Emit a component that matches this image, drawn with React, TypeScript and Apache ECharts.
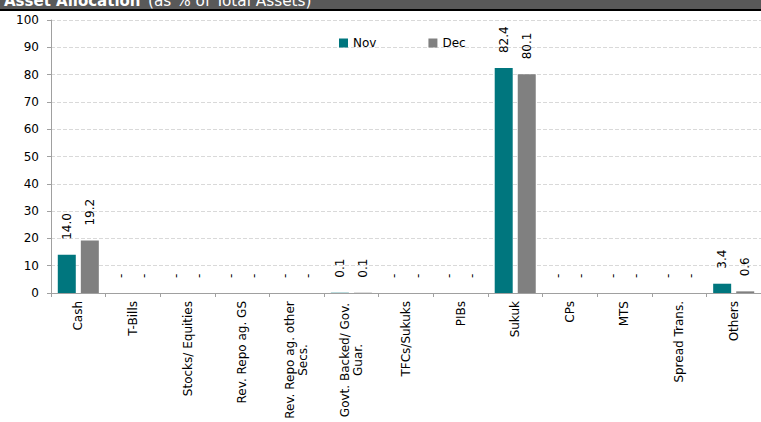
import React, { useEffect, useRef } from "react";
import * as echarts from "echarts";

const categories = [
  "Cash",
  "T-Bills",
  "Stocks/ Equities",
  "Rev. Repo ag. GS",
  "Rev. Repo ag. other\nSecs.",
  "Govt. Backed/ Gov.\nGuar.",
  "TFCs/Sukuks",
  "PIBs",
  "Sukuk",
  "CPs",
  "MTS",
  "Spread Trans.",
  "Others",
];
const novValues = [14.0, 0, 0, 0, 0, 0.1, 0, 0, 82.4, 0, 0, 0, 3.4];
const decValues = [19.2, 0, 0, 0, 0, 0.1, 0, 0, 80.1, 0, 0, 0, 0.6];
const seriesNames = ["Nov", "Dec"];
const titleBold = "Asset Allocation";
const titleRest = "(as % of Total Assets)";

const FONT = "DejaVu Sans";
const TEAL = "#00767E";
const GREY = "#808080";

function measure(text: string, size: number): number {
  const c = document.createElement("canvas");
  const ctx = c.getContext("2d");
  if (!ctx) return text.length * size * 0.6;
  ctx.font = `${size}px "${FONT}"`;
  return Math.ceil(ctx.measureText(text).width);
}

export default function App() {
  const ref = useRef<HTMLDivElement>(null);
  useEffect(() => {
    document.body.style.margin = "0";
    if (!ref.current) return;
    const chart = echarts.init(ref.current, undefined, { renderer: "svg" });

    const maxTwoLineWidth = Math.max(
      ...categories
        .filter((c) => c.indexOf("\n") >= 0)
        .map((c) => Math.max(...c.split("\n").map((l) => measure(l, 12))))
    );

    const labelFmt = (p: any) => (p.value === 0 ? "-" : Number(p.value).toFixed(1));
    const barLabel = {
      show: true,
      position: "top",
      rotate: 90,
      align: "left",
      verticalAlign: "middle",
      distance: 15,
      fontSize: 12,
      fontFamily: FONT,
      color: "#000",
      formatter: labelFmt,
    };

    chart.setOption({
      animation: false,
      textStyle: { fontFamily: FONT },
      graphic: [
        { type: "rect", shape: { x: 0, y: 0, width: 761, height: 9 }, style: { fill: "#595959" } },
        { type: "rect", shape: { x: 0, y: 9, width: 761, height: 2 }, style: { fill: "#000" } },
        {
          type: "text",
          x: 4,
          y: 0.5,
          style: {
            text: titleBold,
            fill: "#fff",
            fontSize: 15,
            fontWeight: "bold",
            fontFamily: FONT,
            verticalAlign: "middle",
          },
        },
        {
          type: "text",
          x: 148,
          y: 0.5,
          style: {
            text: titleRest,
            fill: "#fff",
            fontSize: 15.3,
            fontFamily: FONT,
            verticalAlign: "middle",
          },
        },
      ],
      legend: {
        data: seriesNames,
        left: 334,
        top: 32,
        icon: "rect",
        itemWidth: 9,
        itemHeight: 9,
        itemGap: 52,
        textStyle: { fontSize: 12, fontFamily: FONT, color: "#000" },
      },
      grid: { left: 51, top: 20, right: -3, bottom: 128 },
      xAxis: {
        type: "category",
        data: categories,
        axisLine: { lineStyle: { color: "#a0a0a0" } },
        axisTick: { show: true, length: 4, lineStyle: { color: "#a0a0a0" } },
        axisLabel: {
          interval: 0,
          rotate: 90,
          margin: 8,
          fontSize: 12,
          fontFamily: FONT,
          color: "#000",
          lineHeight: 13,
          formatter: (v: string) => {
            if (v.indexOf("\n") < 0) return v;
            return v
              .split("\n")
              .map((l) => `{c|${l}}`)
              .join("\n");
          },
          rich: {
            c: {
              width: maxTwoLineWidth,
              align: "center",
              fontSize: 12,
              fontFamily: FONT,
              color: "#000",
              lineHeight: 13,
            },
          },
        },
      },
      yAxis: {
        type: "value",
        min: 0,
        max: 100,
        interval: 10,
        axisLine: { show: true, lineStyle: { color: "#a0a0a0" } },
        axisTick: { show: true, length: 4, lineStyle: { color: "#a0a0a0" } },
        axisLabel: { fontSize: 12, fontFamily: FONT, color: "#000", margin: 12 },
        splitLine: { lineStyle: { color: "#d9d9d9", type: [4, 2] } },
      },
      series: [
        {
          name: seriesNames[0],
          type: "bar",
          data: novValues,
          barWidth: 18,
          barGap: "28%",
          itemStyle: { color: TEAL },
          label: barLabel,
        },
        {
          name: seriesNames[1],
          type: "bar",
          data: decValues,
          barWidth: 18,
          barGap: "28%",
          itemStyle: { color: GREY },
          label: barLabel,
        },
      ],
    });
    return () => chart.dispose();
  }, []);
  return <div ref={ref} style={{ width: 761, height: 422 }} />;
}
